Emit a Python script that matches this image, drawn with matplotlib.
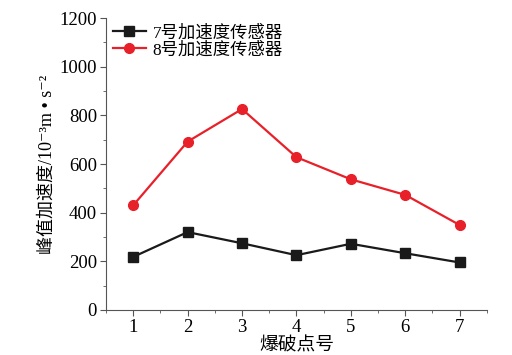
import numpy as np
import matplotlib.pyplot as plt
from matplotlib.ticker import MultipleLocator

plt.rcParams['font.family'] = ['Liberation Serif', 'Noto Sans CJK SC', 'DejaVu Sans']

points = [1, 2, 3, 4, 5, 6, 7]
sensor7 = [218, 320, 274, 225, 272, 233, 195]
sensor8 = [430, 692, 826, 628, 537, 473, 349]
labels = ['7号加速度传感器', '8号加速度传感器']

fig = plt.figure(figsize=(5.12, 3.55), dpi=100)
ax = fig.add_axes([0.207, 0.127, 0.744, 0.822])

ax.plot(points, sensor7, color='#1a1a1a', marker='s', markersize=7, linewidth=1.6, label=labels[0])
ax.plot(points, sensor8, color='#e8202a', marker='o', markersize=7, linewidth=1.6, label=labels[1])

ax.set_xlim(0.5, 7.5)
ax.set_ylim(0, 1200)
ax.xaxis.set_major_locator(MultipleLocator(1))
ax.xaxis.set_minor_locator(MultipleLocator(0.5))
ax.yaxis.set_major_locator(MultipleLocator(200))
ax.yaxis.set_minor_locator(MultipleLocator(100))
ax.tick_params(which='both', direction='out', labelsize=13.5, color='#555555', pad=2.5)
ax.tick_params(which='major', length=4)
ax.tick_params(which='minor', length=2.5)

for side in ['top', 'right']:
    ax.spines[side].set_visible(False)
for side in ['left', 'bottom']:
    ax.spines[side].set_color('#555555')

ax.set_xlabel('爆破点号', fontsize=13.5, labelpad=1)
ax.set_ylabel('峰值加速度/10⁻³m • s⁻²', fontsize=13, labelpad=3)

ax.legend(loc='upper left', frameon=False, fontsize=12.5, handlelength=1.9,
          borderaxespad=0.1, handletextpad=0.4, labelspacing=0.05, borderpad=0.3)

fig.savefig('out.png', dpi=100)
